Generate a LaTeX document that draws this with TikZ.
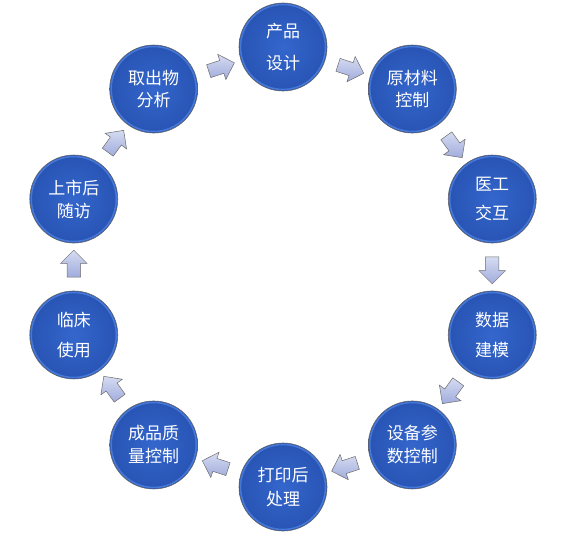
\documentclass[tikz,border=0pt]{standalone}
\usepackage{fontspec}
\newfontfamily\cjk{Noto Sans CJK SC}
\usetikzlibrary{calc,shapes.arrows}
\definecolor{ballblue}{RGB}{52,102,204}
\definecolor{balldark}{RGB}{40,84,180}
\definecolor{ballrim}{RGB}{70,120,215}
\definecolor{arrfill}{RGB}{196,204,236}
\definecolor{arrdark}{RGB}{160,172,220}

\begin{document}
\begin{tikzpicture}[x=1pt, y=1pt,
  ball/.style={circle, minimum size=88pt, inner sep=0pt, align=center, text=white,
    inner color=ballblue, outer color=balldark, draw=gray!80!black, line width=0.6pt},
  blk/.style={single arrow, minimum height=27pt, inner sep=6.5pt, single arrow head extend=6.5pt,
    top color=arrfill!70!white, bottom color=arrdark, draw=gray!85!black, line width=0.5pt}]
\useasboundingbox (0,0) rectangle (567,536);
\coordinate (mid) at (283,269);
% ring of steps, clockwise from the top
\foreach \i/\txt/\ls in {0/{产品\\设计}/32, 1/{原材料\\控制}/22, 2/{医工\\交互}/29, 3/{数据\\建模}/30,
  4/{设备参\\数控制}/23, 5/{打印后\\处理}/24, 6/{成品质\\量控制}/23, 7/{临床\\使用}/30,
  8/{上市后\\随访}/23, 9/{取出物\\分析}/22}
{
  \node[ball, font=\cjk\fontsize{17}{\ls}\selectfont] (c\i) at ($(mid)+({90-36*\i}:220)$) {\txt};
  \draw[ballrim, line width=1.5pt] (c\i) circle (42.5pt);
}
% block arrows between neighbours
\foreach \i/\j in {0/1,1/2,2/3,3/4,4/5,5/6,6/7,7/8,8/9,9/0}
{
  \pgfmathsetmacro\ang{-18-36*\i}
  \node[blk, rotate=\ang] (a\i) at ($(c\i)!0.5!(c\j)$) {};
}
\end{tikzpicture}
\end{document}
